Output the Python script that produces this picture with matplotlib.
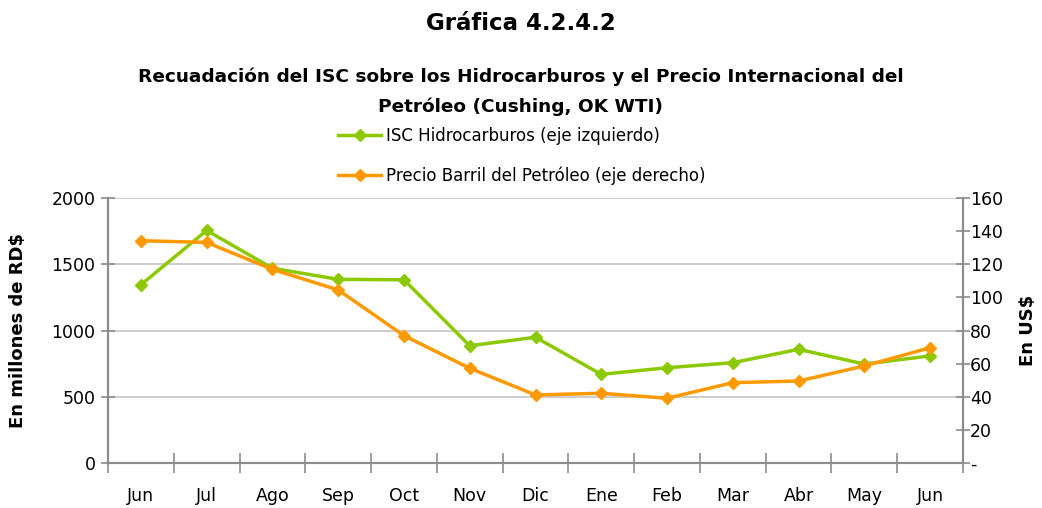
import matplotlib
matplotlib.use("Agg")
import matplotlib.pyplot as plt
from matplotlib.lines import Line2D

plt.rcParams['font.family'] = ['DejaVu Sans']

months = ["Jun", "Jul", "Ago", "Sep", "Oct", "Nov", "Dic", "Ene", "Feb", "Mar", "Abr", "May", "Jun"]
isc = [1345, 1755, 1470, 1386, 1383, 885, 949, 669, 719, 757, 858, 747, 808]
precio = [134.2, 133.2, 116.9, 104.5, 76.9, 57.2, 41.1, 42.1, 39.1, 48.5, 49.5, 58.6, 69.6]

left_ticks = [0, 500, 1000, 1500, 2000]
right_ticks = [0, 20, 40, 60, 80, 100, 120, 140, 160]
right_labels = ["-", "20", "40", "60", "80", "100", "120", "140", "160"]

green = "#8DC900"
orange = "#FF9900"
axcol = "#8c8c8c"

fig = plt.figure(figsize=(10.42, 5.08), dpi=100)
ax = fig.add_axes([108/1042, 1-463/508, (963-108)/1042, (463-198)/508])
ax2 = ax.twinx()

x = list(range(len(months)))
ax.plot(x, isc, color=green, lw=2.5, marker='D', ms=6.5, zorder=3)
ax2.plot(x, precio, color=orange, lw=2.5, marker='D', ms=6.5, zorder=3)

ax.set_xlim(-0.5, len(months) - 0.5)
ax.set_ylim(0, 2000)
ax2.set_ylim(0, 160)
ax.set_yticks(left_ticks)
ax.set_yticklabels([str(v) for v in left_ticks], fontsize=12.5)
ax2.set_yticks(right_ticks)
ax2.set_yticklabels(right_labels, fontsize=12.5)

ax.set_xticks([i - 0.5 for i in range(len(months) + 1)])
ax.set_xticklabels([])
ax.set_xticks(x, minor=True)
ax.set_xticklabels(months, minor=True, fontsize=12.5)
ax.tick_params(axis='x', which='minor', length=0, pad=17)
ax.tick_params(axis='x', which='major', direction='inout', length=14, color=axcol, width=1.2)
ax.tick_params(axis='y', direction='inout', length=10, color=axcol, width=1.2, pad=4)
ax2.tick_params(axis='y', direction='inout', length=10, color=axcol, width=1.2, pad=0)

ax.grid(axis='y', color='#c4c4c4', lw=1.2)
ax.set_axisbelow(True)
for a in (ax, ax2):
    a.spines['top'].set_visible(False)
    for s in ('left', 'right', 'bottom'):
        a.spines[s].set_color(axcol)
        a.spines[s].set_linewidth(1.5)

ax.set_ylabel("En millones de RD$", fontsize=13, fontweight='bold')
ax2.set_ylabel("En US$", fontsize=13, fontweight='bold')
ax2.yaxis.set_label_coords(1.066, 0.5)
ax.yaxis.set_label_coords(-0.095, 0.5)

fig.text(0.5, 1-23/508, "Gráfica 4.2.4.2", ha='center', va='center', fontsize=16.5, fontweight='bold')
fig.text(0.5, 1-77/508, "Recuadación del ISC sobre los Hidrocarburos y el Precio Internacional del",
         ha='center', va='center', fontsize=13.3, fontweight='bold')
fig.text(0.5, 1-107/508, "Petróleo (Cushing, OK WTI)", ha='center', va='center', fontsize=13.3, fontweight='bold')

handles = [Line2D([], [], color=green, lw=2.5, marker='D', ms=6),
           Line2D([], [], color=orange, lw=2.5, marker='D', ms=6)]
fig.legend(handles, ["ISC Hidrocarburos (eje izquierdo)", "Precio Barril del Petróleo (eje derecho)"],
           loc='center', bbox_to_anchor=(522/1042, 1-156/508), frameon=False, fontsize=12,
           handlelength=2.6, labelspacing=1.3, handletextpad=0.3, borderpad=0)

fig.savefig("out.png", dpi=100)
